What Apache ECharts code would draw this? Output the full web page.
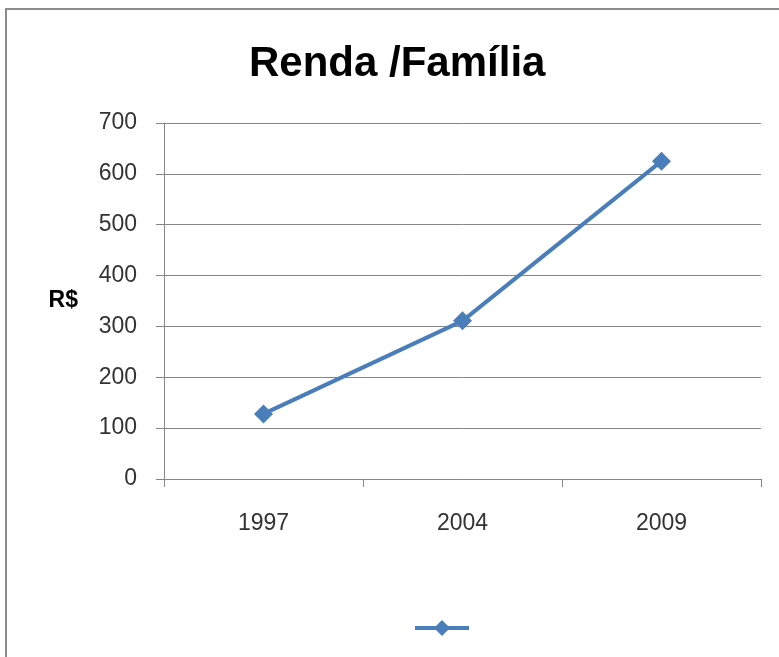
<!DOCTYPE html>
<html>
<head>
<meta charset="utf-8">
<script src="https://cdn.jsdelivr.net/npm/echarts@6/dist/echarts.min.js"></script>
<style>
  html, body { margin: 0; padding: 0; background: #fff; }
  #main { width: 779px; height: 657px; }
</style>
</head>
<body>
<div id="main"></div>
<script>
// dados
var anos = ['1997', '2004', '2009']
var renda = [128, 311, 625]

var chart = echarts.init(document.getElementById('main'))
var option = {
  backgroundColor: '#fff',
  animation: false,
  graphic: [
    {
      type: 'rect',
      shape: { x: 6, y: 9, width: 800, height: 700 },
      style: { fill: 'none', stroke: '#8c8c8c', lineWidth: 2 },
      silent: true
    }
  ],
  title: {
    text: 'Renda /Família',
    left: 244,
    top: 38,
    textStyle: {
      fontFamily: 'Liberation Sans',
      fontWeight: 'bold',
      fontSize: 42,
      color: '#000'
    }
  },
  legend: {
    bottom: 16,
    left: 408,
    itemWidth: 54,
    itemHeight: 20,
    itemGap: 0,
    formatter: function () { return '' },
    lineStyle: { width: 4 },
    data: [' ']
  },
  grid: { left: 164, top: 123, right: 18, bottom: 178 },
  xAxis: {
    type: 'category',
    data: anos,
    axisLine: { lineStyle: { color: '#868686', width: 1 } },
    axisTick: { show: true, length: 8, lineStyle: { color: '#868686' } },
    axisLabel: { color: '#333', fontSize: 23, fontFamily: 'Liberation Sans', margin: 33 }
  },
  yAxis: {
    type: 'value',
    min: 0,
    max: 700,
    interval: 100,
    name: 'R$',
    nameLocation: 'middle',
    nameRotate: 0,
    nameGap: 86,
    nameTextStyle: { color: '#000', fontWeight: 'bold', fontSize: 23, fontFamily: 'Liberation Sans' },
    axisLine: { show: true, lineStyle: { color: '#868686', width: 1 } },
    axisTick: { show: true, length: 8, lineStyle: { color: '#868686' } },
    splitLine: { lineStyle: { color: '#868686', width: 1 } },
    axisLabel: { color: '#333', fontSize: 23, fontFamily: 'Liberation Sans', margin: 27 }
  },
  series: [
    {
      name: ' ',
      type: 'line',
      data: renda,
      symbol: 'diamond',
      symbolSize: 19,
      itemStyle: { color: '#4a7ebb' },
      lineStyle: { color: '#4a7ebb', width: 4 }
    }
  ]
}
chart.setOption(option)
</script>
</body>
</html>
